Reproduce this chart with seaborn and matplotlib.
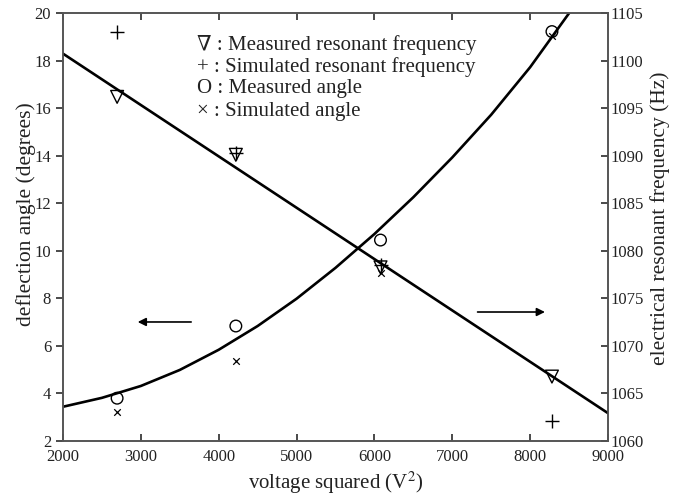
import numpy as np
import pandas as pd
import matplotlib
matplotlib.use('Agg')
import matplotlib.pyplot as plt
import seaborn as sns

# ---- data ----
voltage_sq = [2695, 4220, 6078, 8280]
meas_freq = [1096.2, 1090.1, 1078.25, 1066.75]
sim_freq = [1103.0, 1090.3, 1078.5, 1062.1]
meas_angle = [3.79, 6.83, 10.45, 19.23]
sim_angle = [3.2, 5.37, 9.05, 19.04]

angle_fit_x = [2000, 2500, 3000, 3500, 4000, 4500, 5000, 5500, 6000, 6500,
               7000, 7500, 8000, 8500, 8600]
angle_fit_y = [3.43, 3.805, 4.305, 4.98, 5.83, 6.83, 7.98, 9.28, 10.705, 12.255,
               13.93, 15.73, 17.73, 20.005, 20.485]
freq_fit_x = [2000, 9000]
freq_fit_y = [1100.75, 1062.9]

x_ticks = [2000, 3000, 4000, 5000, 6000, 7000, 8000, 9000]
left_ticks = [2, 4, 6, 8, 10, 12, 14, 16, 18, 20]
right_ticks = [1060, 1065, 1070, 1075, 1080, 1085, 1090, 1095, 1100, 1105]

legend_lines = ["\u2207 : Measured resonant frequency",
                "+ : Simulated resonant frequency",
                "O : Measured angle",
                "\u00d7 : Simulated angle"]

sns.set_theme(style='white')
plt.rcParams['font.family'] = ['Liberation Serif', 'DejaVu Serif']
plt.rcParams['mathtext.fontset'] = 'stix'

fig = plt.figure(figsize=(6.92, 5.03), dpi=100)
ax = fig.add_axes([63/692, 1-440.7/503, 545/692, 427.4/503])
ax2 = ax.twinx()

df_a = pd.DataFrame({'x': voltage_sq, 'meas': meas_angle, 'sim': sim_angle})
df_f = pd.DataFrame({'x': voltage_sq, 'meas': meas_freq, 'sim': sim_freq})
fit_a = pd.DataFrame({'x': angle_fit_x, 'y': angle_fit_y})
fit_f = pd.DataFrame({'x': freq_fit_x, 'y': freq_fit_y})

sns.lineplot(data=fit_a, x='x', y='y', ax=ax, color='black', lw=1.9, sort=False)
sns.scatterplot(data=df_a, x='x', y='meas', ax=ax, marker='o', s=70,
                facecolor='none', edgecolor='black', linewidth=1.0, zorder=5)
sns.scatterplot(data=df_a, x='x', y='sim', ax=ax, marker='x', s=22,
                color='black', linewidth=0.9, zorder=5)

sns.lineplot(data=fit_f, x='x', y='y', ax=ax2, color='black', lw=1.9, sort=False)
sns.scatterplot(data=df_f, x='x', y='meas', ax=ax2, marker='v', s=85,
                facecolor='none', edgecolor='black', linewidth=1.0, zorder=5)
sns.scatterplot(data=df_f, x='x', y='sim', ax=ax2, marker='+', s=90,
                color='black', linewidth=1.0, zorder=5)

ax.set_xlim(2000, 9000)
ax.set_ylim(2, 20)
ax2.set_ylim(1060, 1105)
ax.set_xticks(x_ticks)
ax.set_yticks(left_ticks)
ax2.set_yticks(right_ticks)

fs = 12
ax.set_xlabel('voltage squared (V$^2$)', fontsize=15, color='#222222', labelpad=3)
ax.set_ylabel('deflection angle (degrees)', fontsize=15.5, color='#222222', labelpad=-1)
ax2.set_ylabel('electrical resonant frequency (Hz)', fontsize=15.5, color='#222222', labelpad=4.5)
ax.yaxis.label.set_y(0.53)
ax2.yaxis.label.set_y(0.52)

ax.tick_params(axis='x', direction='in', top=True, bottom=True, length=5,
               labelsize=fs, colors='#333333', labelcolor='#222222', pad=6)
ax.tick_params(axis='y', direction='out', left=True, length=5,
               labelsize=fs, colors='#333333', labelcolor='#222222')
ax2.tick_params(axis='y', direction='in', right=True, length=5,
                labelsize=fs, colors='#333333', labelcolor='#222222', pad=2)

for a in (ax, ax2):
    for sp in a.spines.values():
        sp.set_color('#555555')
        sp.set_linewidth(1.2)

# arrows indicating axes
ax.annotate('', xy=(2924, 7.0), xytext=(3682, 7.0),
            arrowprops=dict(arrowstyle='-|>', color='black', lw=1.2, mutation_scale=12))
ax.annotate('', xy=(8226, 7.42), xytext=(7289, 7.42),
            arrowprops=dict(arrowstyle='-|>', color='black', lw=1.2, mutation_scale=12))

# legend as text
ys = [0.927, 0.875, 0.823, 0.771]
for t, yy in zip(legend_lines, ys):
    ax.text(0.245, yy, t, transform=ax.transAxes, fontsize=15, color='#222222',
            va='center', ha='left')

fig.savefig('out.png', dpi=100)
